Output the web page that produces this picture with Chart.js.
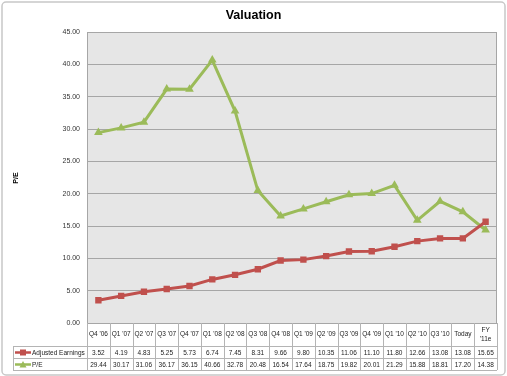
<!DOCTYPE html>
<html>
<head>
<meta charset="utf-8">
<script src="https://cdn.jsdelivr.net/npm/chart.js@4"></script>
<style>
  html, body { margin: 0; padding: 0; background: #fff; }
  #wrap { width: 507px; height: 376px; position: relative; }
</style>
</head>
<body>
<div id="wrap"><canvas id="valChart" width="507" height="376"></canvas></div>
<script>
const categories = ["Q4 '06", "Q1 '07", "Q2 '07", "Q3 '07", "Q4 '07", "Q1 '08", "Q2 '08", "Q3 '08", "Q4 '08",
    "Q1 '09", "Q2 '09", "Q3 '09", "Q4 '09", "Q1 '10", "Q2 '10", "Q3 '10", "Today", ["FY", "'11e"]];
const adjustedEarnings = [3.52, 4.19, 4.83, 5.25, 5.73, 6.74, 7.45, 8.31, 9.66, 9.80, 10.35, 11.06, 11.10, 11.80, 12.66, 13.08, 13.08, 15.65];
const peRatio = [29.44, 30.17, 31.06, 36.17, 36.15, 40.66, 32.78, 20.48, 16.54, 17.64, 18.75, 19.82, 20.01, 21.29, 15.88, 18.81, 17.20, 14.38];
const yTicks = [0, 5, 10, 15, 20, 25, 30, 35, 40, 45];

const RED = '#c0504d';
const GREEN = '#9bbb59';
const FONT = '"Liberation Sans", Arial, sans-serif';

// frame, title, y title and the data table below the plot
const decorPlugin = {
    id: 'decor',
    beforeDraw(chart) {
        const ctx = chart.ctx;
        const a = chart.chartArea;
        ctx.save();
        ctx.fillStyle = '#fff';
        ctx.fillRect(0, 0, chart.width, chart.height);
        // outer frame
        ctx.strokeStyle = '#c8c8c8';
        ctx.lineWidth = 1.5;
        ctx.beginPath();
        ctx.roundRect(2, 2, chart.width - 4, chart.height - 3, 4);
        ctx.stroke();
        // plot background
        ctx.fillStyle = '#e6e6e6';
        ctx.fillRect(a.left, a.top, a.right - a.left, a.bottom - a.top);
        ctx.restore();
    },
    afterDraw(chart) {
        const ctx = chart.ctx;
        const a = chart.chartArea;
        const x = chart.scales.x;
        ctx.save();
        // title
        ctx.fillStyle = '#000';
        ctx.font = 'bold 12.5px ' + FONT;
        ctx.textAlign = 'center';
        ctx.textBaseline = 'middle';
        ctx.fillText('Valuation', chart.width / 2, 16);
        // y axis title
        ctx.save();
        ctx.translate(16, 178);
        ctx.rotate(-Math.PI / 2);
        ctx.font = 'bold 7px ' + FONT;
        ctx.fillText('P/E', 0, 0);
        ctx.restore();

        // plot border
        ctx.strokeStyle = '#a6a6a6';
        ctx.lineWidth = 1;
        ctx.strokeRect(a.left + 0.5, a.top + 0.5, a.right - a.left - 1, a.bottom - a.top);

        // data table
        const n = categories.length;
        const colW = (a.right - a.left) / n;
        const y0 = a.bottom, y1 = 346, y2 = 358, y3 = 370;
        const legL = 13;
        ctx.strokeStyle = '#b4b4b4';
        ctx.beginPath();
        for (let i = 0; i <= n; i++) {
            const cx = Math.round(a.left + i * colW) + 0.5;
            ctx.moveTo(cx, y0);
            ctx.lineTo(cx, y3);
        }
        ctx.moveTo(legL + 0.5, y1); ctx.lineTo(legL + 0.5, y3);
        [y1, y2, y3].forEach(yy => {
            ctx.moveTo(legL, yy + 0.5);
            ctx.lineTo(a.right, yy + 0.5);
        });
        ctx.stroke();

        ctx.fillStyle = '#222';
        ctx.font = '6.5px ' + FONT;
        ctx.textAlign = 'center';
        categories.forEach((c, i) => {
            const cx = x.getPixelForValue(i);
            if (Array.isArray(c)) {
                ctx.fillText(c[0], cx, 330);
                ctx.fillText(c[1], cx, 339);
            } else {
                ctx.fillText(c, cx, 334.5);
            }
            ctx.fillText(adjustedEarnings[i].toFixed(2), cx, (y1 + y2) / 2 + 1);
            ctx.fillText(peRatio[i].toFixed(2), cx, (y2 + y3) / 2 + 1);
        });

        // legend keys
        const rows = [
            { label: 'Adjusted Earnings', color: RED, y: (y1 + y2) / 2 + 0.5, shape: 'rect' },
            { label: 'P/E', color: GREEN, y: (y2 + y3) / 2 + 0.5, shape: 'tri' }
        ];
        rows.forEach(r => {
            ctx.strokeStyle = r.color;
            ctx.fillStyle = r.color;
            ctx.lineWidth = 2.5;
            ctx.beginPath();
            ctx.moveTo(15, r.y);
            ctx.lineTo(31, r.y);
            ctx.stroke();
            ctx.beginPath();
            if (r.shape === 'rect') {
                ctx.rect(20, r.y - 3, 6, 6);
            } else {
                ctx.moveTo(23, r.y - 3.5);
                ctx.lineTo(26.5, r.y + 3);
                ctx.lineTo(19.5, r.y + 3);
                ctx.closePath();
            }
            ctx.fill();
            ctx.fillStyle = '#222';
            ctx.textAlign = 'left';
            ctx.font = '6.5px ' + FONT;
            ctx.fillText(r.label, 32, r.y + 0.5);
        });
        ctx.restore();
    }
};

new Chart(document.getElementById('valChart').getContext('2d'), {
    type: 'line',
    data: {
        labels: categories,
        datasets: [
            {
                label: 'Adjusted Earnings',
                data: adjustedEarnings,
                borderColor: RED,
                backgroundColor: RED,
                borderWidth: 3,
                pointStyle: 'rect',
                pointRadius: 4.5,
                pointBorderWidth: 0,
                tension: 0
            },
            {
                label: 'P/E',
                data: peRatio,
                borderColor: GREEN,
                backgroundColor: GREEN,
                borderWidth: 3,
                pointStyle: 'triangle',
                pointRadius: 5,
                pointBorderWidth: 0,
                tension: 0
            }
        ]
    },
    options: {
        responsive: false,
        animation: false,
        devicePixelRatio: 1,
        layout: { padding: { top: 32, right: 10, bottom: 53, left: 0 } },
        plugins: {
            legend: { display: false },
            title: { display: false },
            tooltip: { enabled: false }
        },
        scales: {
            x: {
                display: false,
                offset: true
            },
            y: {
                min: 0,
                max: 45,
                afterFit(scale) { scale.width = 87; },
                afterBuildTicks(scale) { scale.ticks = yTicks.map(v => ({ value: v })); },
                ticks: {
                    padding: 7,
                    color: '#333',
                    font: { family: FONT, size: 7 },
                    callback: v => v.toFixed(2)
                },
                grid: { color: '#a6a6a6', drawTicks: false },
                border: { display: false }
            }
        }
    },
    plugins: [decorPlugin]
});
</script>
</body>
</html>
